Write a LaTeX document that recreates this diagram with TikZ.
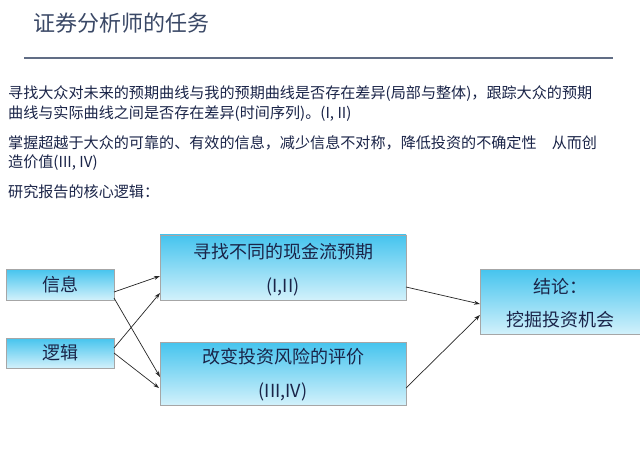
\documentclass[tikz,border=0pt]{standalone}
\usepackage{fontspec}
\setmainfont{Liberation Serif}
\newfontfamily\cjk{Noto Sans CJK SC}
\usetikzlibrary{arrows.meta}
\definecolor{txt}{HTML}{1A2448}
\definecolor{ttl}{HTML}{3A4866}
\definecolor{gtop}{HTML}{45C4EE}
\definecolor{gbot}{HTML}{D2F1FB}
\tikzset{
 box/.style={draw=gray!70, top color=gtop, bottom color=gbot, inner sep=0pt},
 con/.style={-{Stealth[length=6pt,width=4pt]}, black!85, line width=0.7pt},
 para/.style={anchor=west, inner sep=0pt, font=\cjk\fontsize{15.1}{17}\selectfont, text=txt},
 lbl/.style={font=\cjk\fontsize{18}{20}\selectfont, text=txt, inner sep=0pt}
}
\begin{document}
\begin{tikzpicture}[x=1pt,y=-1pt]
\useasboundingbox (0,0) rectangle (640,473);
\fill[white] (0,0) rectangle (640,473);
\node[anchor=west, inner sep=0pt, font=\cjk\fontsize{22}{24}\selectfont, text=ttl] (title) at (33,23) {证券分析师的任务};
\draw[ttl!80, line width=1.2pt] (24,58) -- (613,58);
\node[para] (p1) at (8,94) {寻找大众对未来的预期曲线与我的预期曲线是否存在差异(局部与整体)，跟踪大众的预期};
\node[para] (p2) at (8,114) {曲线与实际曲线之间是否存在差异(时间序列)。(I, II)};
\node[para] (p3) at (8,143) {掌握超越于大众的可靠的、有效的信息，减少信息不对称，降低投资的不确定性\quad 从而创};
\node[para] (p4) at (8,163) {造价值(III, IV)};
\node[para] (p5) at (8,192) {研究报告的核心逻辑：};
\path[box] (6,269) rectangle (114,300);
\node[lbl] (xx) at (60,285) {信息};
\path[box] (6,338) rectangle (114,368);
\node[lbl] (lj) at (60,353) {逻辑};
\path[box] (160,235) rectangle (406,300);
\node[lbl] (a1) at (283,252) {寻找不同的现金流预期};
\node[lbl] (a2) at (283,287) {(I,II)};
\path[box] (160,342) rectangle (406,405);
\node[lbl] (b1) at (283,357) {改变投资风险的评价};
\node[lbl] (b2) at (283,392) {(III,IV)};
\path[box] (480,269) rectangle (640,334);
\node[lbl] (c1) at (560,287) {结论：};
\node[lbl] (c2) at (560,320) {挖掘投资机会};
\coordinate (s1) at (114,292); \coordinate (t1) at (160,276);
\coordinate (s2) at (114,298); \coordinate (t2) at (160,377);
\coordinate (s3) at (114,348); \coordinate (t3) at (160,293);
\coordinate (s4) at (114,353); \coordinate (t4) at (159,388);
\coordinate (s5) at (406,287); \coordinate (t5) at (480,304);
\coordinate (s6) at (406,388); \coordinate (t6) at (480,315);
\draw[con] (s1) -- (t1);
\draw[con] (s2) -- (t2);
\draw[con] (s3) -- (t3);
\draw[con] (s4) -- (t4);
\draw[con] (s5) -- (t5);
\draw[con] (s6) -- (t6);
\end{tikzpicture}
\end{document}
